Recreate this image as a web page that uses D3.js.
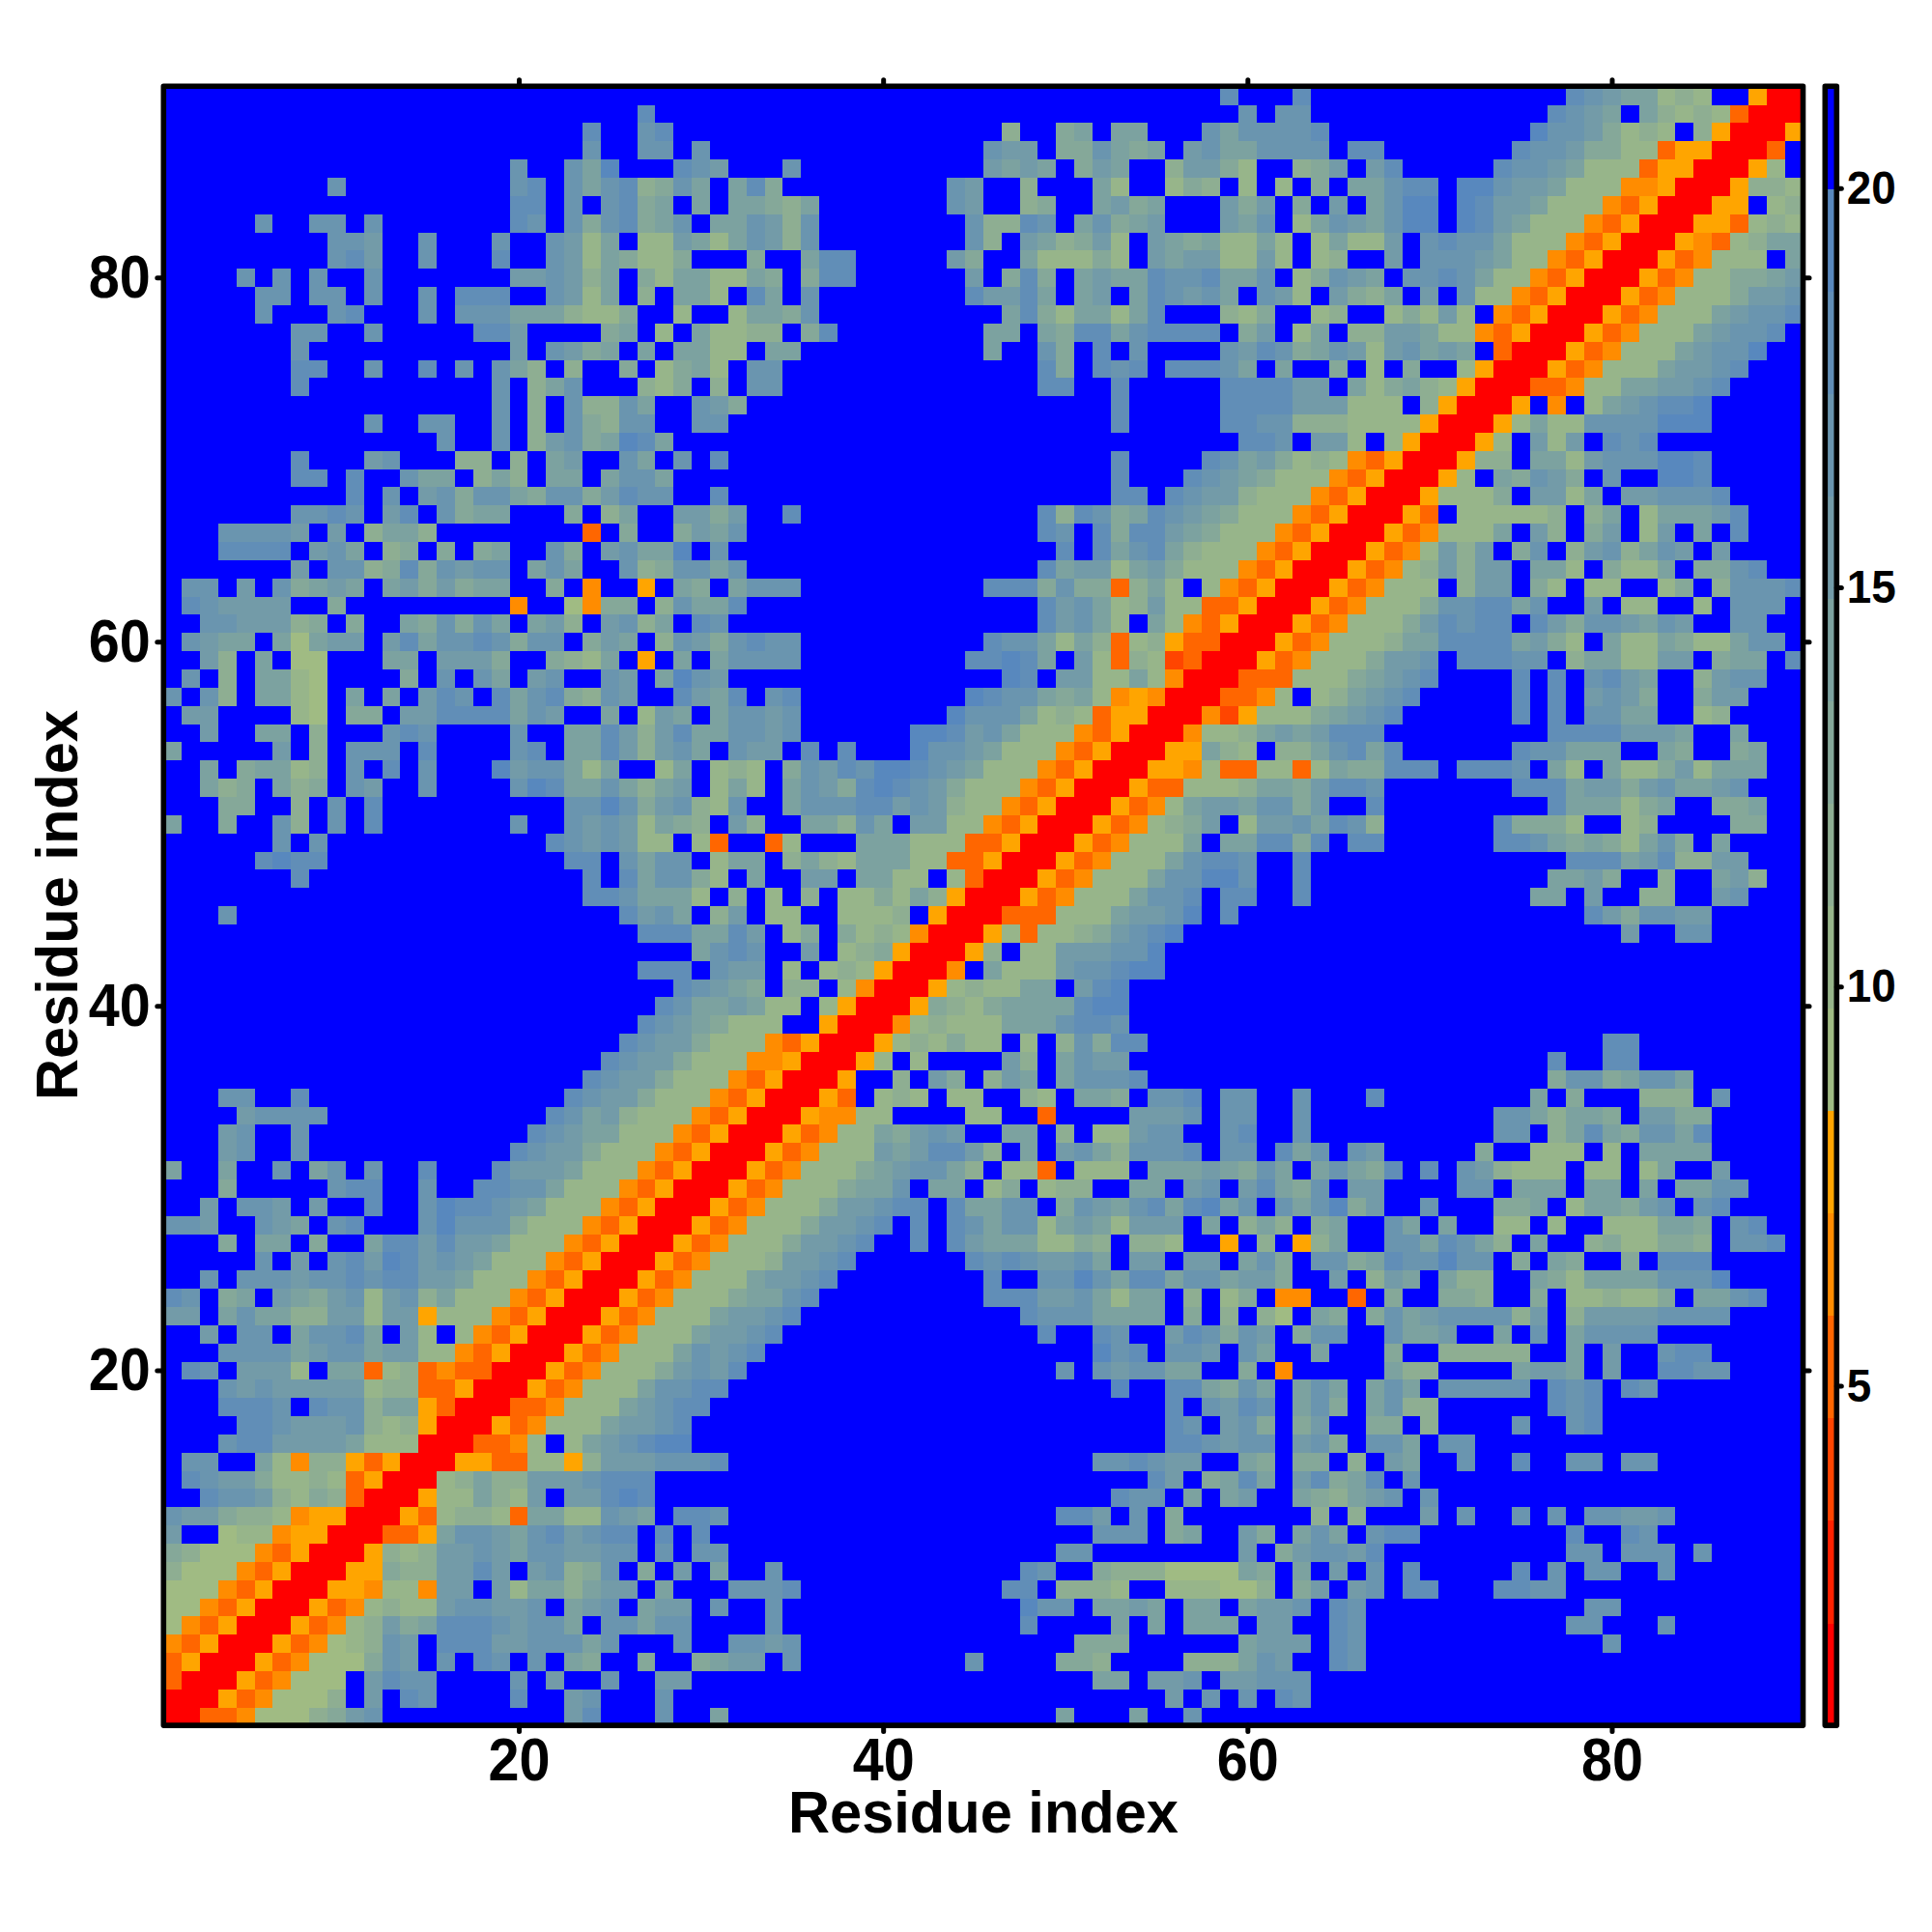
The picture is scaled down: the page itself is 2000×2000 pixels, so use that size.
<!DOCTYPE html>
<html><head><meta charset="utf-8"><style>html,body{margin:0;background:#fff}svg{display:block}text{font-family:"Liberation Sans",Arial,sans-serif;font-weight:bold;fill:#000}</style>
<script src="https://cdnjs.cloudflare.com/ajax/libs/d3/7.8.5/d3.min.js"></script></head><body><div id="c"></div><script>
const residueCount = 90;
const axisTicks = [20, 40, 60, 80];
const colorbarTicks = [5, 10, 15, 20];
const colorbarRange = [0.756, 21.29];
const levelColors = ["#FF0000","#FF2200","#FF4500","#FF6600","#FF8C00","#FFA500","#A0BB83","#97B58A","#8EAE92","#85A899","#7CA2A0","#739BA8","#6A95AF","#618EB7","#5888BE","#0000FF"];
// Upper triangle of the symmetric map: row r holds columns r..90, one level (0-f) per cell; Fn = n cells of level f.
const triangleRows = [
"0033466689bc F10 bd fff c ff a F18 a fff a ff c fff F30",
"00534 666 8 f b f d c ffff d ff b c fff c ff F25 b f c f c f d c F27",
"00534 666 f b d c c ffff c f b ff c ff bb f F21 a a f b b c f b b ccc F27",
"00534 666 9 c b f c f d c f c f a 9 ff 9 ff 9 a bb f c F9 c F4 99 8 F4 888 a c b ff d c F24",
"00534 6 7 8 c b f ddd bb ccc a c fff c f f cc b c F15 999 F6 a bbb f d c F13 c F10",
"00534 7 8 b 9 a ddd c b c c a f c c a c c f fff c F13 d F4 a f a f aa a f bb ff d c F11 cc fff c F7",
"00534 7 8 7 7 b c c b b c f a b c f a b b f c ff c F13 e cc f aa b a f aa f a bbc f d c F12 cc F10",
"00554 77 4 bb f b 7 aa 8 a b b f a ff f ccc d F11 dd f 888 7 ff 777 66 8 f 9 b f b c f dd fff dd cc F13",
"00559 88 bb d b f b c 8 9 c f 9 f b f a ff c F13 d c ff 9888 6666 a 9 f a f b f c f d F5 d f c f cc ff c F7",
"005 8 7 8 b b c b a c c b b c c f c f c c F18 cc F8 b f 9 b c c b d F10 c c f c c c f c F5",
"00 33 5 a c c b a c d b c d d f d f d F21 ccc f 9 a ff b 9 f a c a f c d d F8 d ff d c F8",
"005 3 7 8 8 7 3 a a 7 7 c b a f d d c F18 dd b f c f 9 ffff fff 8 f 8 fff b f c ff c f c f c c b b c F7",
"005 77 a 8 7 b f bb d e d fff F22 d cc f a f a b ff a 9 8 a b c f c F20",
"00 7 8 a 8 8 bbb c ddd fff F24 d b f 9 a d a f b d 9 a d f c F21",
"00 55 33 77 5 8 bbb ccc d F20 c c d c bb ff a 9 f 9 9 f 8 f b a ff c ff d ff cc f cc F8",
"00 33 4 7 f 7 a b c d e e f F25 d d c b c c f b c 9 f c c a f c c F18",
"005 3 4 777 a b b c d f F25 d c f b c 9 f 9 b ff 9 9 f 8 ffff c ff c d F11",
"00 33 4 777 a b c d d F25 d f c b d c f a c 9 f a c 8 8 F6 d c d F11",
"005 3 4 777 a c c d d F21 e ff dd a 9 c a f a c a f a c a f ccccc f d c d f d c F8",
"005 3 4 777 9 b c b d F17 c f c b c c aa ff 9 f 4 F5 a 88 F4 a bb a f b ff dd cc F4",
"005 3 4 777 a c b c d F18 e c d f c c b f c a ff a fff 9 ff 88888 ff a f b ff c d d F5",
"005 3 4 777 a b b c d F14 d ff d c ff b d c 9 c b f 9 c c ff c a a b ff a f c f a cccc F8",
"00534 777 a bb c d F12 d ccc aa aa f 9 f 8 f 8 6 f a 9 f 9 c a b c c c c 8 b f 8 b b b b cccc ffff",
"00534 77 7 9 a a c d F9 ddd bb c a 7 aa f 8 f 7 9 f 44 ff 3 f 9 ff 9 9 8 ff 9 f 7 7 8 7 7 9 f a a c d ff",
"00534 7 7 7 a b b c d F8 d ff cc e c a dd a c c a b b 9 ff b f 8 b a f a 8 8 ff a 9 7 a a a a c c c e ffff",
"00 5 3 4 777 8 b b c d F6 d c d c bb c a f bb f bb f a c 9 f c c 9 a d c c e c c f 9 f a 9 ff 9 f d d d F5",
"00 5 3 4 777 9 bb c d ff d f d b aaa 77 9 8 f 88 7 ff 5 f 8 f 5 8 a ff c c a d c a 8 f a ff 8 9 7 7 9 9 8 f c c d f",
"005 3 4 777 9 bb c d f d f d c a cc 7 a b a 7 bbb f a f 8 a 8 f 9 a ff c a f a ff 77 f 7 ff 777 a a 9 f c d ff",
"00 5 3 4 777 9 bb c dd f d aa cc f 9 c b a c d a d e a c f c a c e 9 b ff c fff 99 a f 7 a a 9 b c f c d ffff",
"0 0 5 3 4 777 9 a a c f aa f 7 9 f 7 88 ff aa f b c f b d a 9 c f b b ffff cc f aaa f aa f a f aa cc fff",
"00534 777 9 a b c c a 8 f 7 7 3 f 777 f a a a b a 9 c a f a c a 9 d f d f c b 8 777 f 77 f 7 a ff b ffff",
"005 3 4 777 b a b d d b 8 f a f b c a 8 c c c d f c c f d a c f c b F5 9 ff 777 f 7 f aaaa F5",
"005 3 4 77 a 9 b c b ff aa f 8 f 77 b cc ff c d ff c F10 cc f 8 a d a 9 c c a d F5",
"005 44 77 ffff 77 ff 3 ffff bbb c f cc ff c F10 cc a 8 a a 9 f b b 9 9 F5",
"005 3 f 7 8 7 f 77 ff 8 7 f aa 9 f cc d f cc ff c fff d F8 a f 9 fff 888 f c ffff",
"005 ff 8 f b 9 f 8 b a f a ccc d F6 F16 9 cc 9 a cc a F6",
"005 7 f 7 ffff b 8 f a c bb F7 F16 d ff dd F9",
"005 7 8 7 9 77 f 7 f 8 c 9 dd F6 F19 dd F9",
"004 7 8 777 aaa c dd c F7 F30",
"005 9 8 7 9 aaaa d ee F7 F30",
"005 7 8 77 aa f b d e F7 F30",
"004 f a 777 b cc d ee F5 F30",
"005 8 f 77 bbb c c e F5 F30",
"005 7 3 7 7 8 9 b c d e F4 F20 b ff cc F5",
"00 333 777 a b b c e f d f F18 d b 9 cc bb F5",
"005 3 4 777 a c c d f d d ff d F12 aa f b ff 88 ff b c fff",
"00534 777 a c c e e c ff d F13 a a b 9 ff 8 ff a b 8 ff",
"00534 777 a c d d c ff d F14 ddd a b d 88 bb fff",
"00534 777 a f a a dd 9 d f dd F6 dd c a 9 a 9 7 a c 9 f a ffff",
"00534 7 8 9 b f 7 bb c a d c 8 F6 d 99 9 7 ff 7 8 ffff 99 ff",
"00534 7 a b b a cc 9 b ff d F9 d aaa 7 9 a ff 99 a ff",
"005 33 777 8 aa 9 b dd c F7 dd d a bb 9 b c a a b c fff",
"00 55 4 7 33 77 3 7 a 99 ddd f ddd c f a 7 f a 77 9 b 7 a aa ff",
"00 55 a 8 7 f 8 8 a c d a d F6 d c c a aa ff a 9 ff 9 a ff",
"004 7 7 8 a b a b ddd F9 dddd bb b a ff a fff",
"004 2 5 77 7 9 a b c d F6 d f d f cc aa ff 7 8 ffff",
"0033 4 7 f 7 8 a b c d F5 d f d f b c b 9 ff 9 b b fff",
"003 33 777 9 a b c d ffff d f d f c d b a ff 8 b cc ff",
"00 5 3 4 777 9 b b c f ddd cc f 8 aa 77 bb f 9 a a f d",
"0 0 5 3 4 777 8 aa dddd a b 9 7 f a 77 a 9 77 a cc f",
"00534 777 9 b d c d d f d b 9 c c b a c b ff cc ff",
"00534 777 9 c c d d a c ff b f 77 ff 7 f ccc f",
"00534 777 f 8 bb f 9 7 f 77 ff 7 9 f 8 ccc d",
"00534 7 8 b 8 bb f aa 7 f 9 77 a f 99 c d ff",
"00534 7 b 8 b f 9 c f 8 b c 8 a c b f b ffff",
"00534 777 a f b 8 f 9 b f 7 b f a f d fff",
"00 5 3 f 77777 8 f 8 a f 7 aaa b d fff",
"005 777 9 f bb 7 a f bb ccc d ffff",
"005 7 f a 9 c b 9 f c ff ee d F5",
"005 88 f aa 7 b ccc ee d F5",
"005 7 f b 7 b f d c d F8",
"005 7 a 77 cccc eee F5",
"005 f 4 f 7 a b c dd e F5",
"00 33 4 7 7 a a b b c d ffff",
"005 3 4 777 a bb c d fff",
"005 3 4 777 a b cc e ff",
"005 3 4 777 a b c c d f",
"005 3 4 777 a b c c d",
"005 3 4 777 9 b b c",
"005 3 4 7 7 9 9 a b",
"005 3 4 777 f a",
"005 4 3 7 8 a a",
"00 55 3 7 8 7",
"00 55 f 7 8",
"005 8 8 7",
"005 7 f",
"00 3 f",
"005",
"00",
"0"
];

const levelIndex = triangleRows.map((s, r) => {
  const t = s.replace(/F(\d+)/g, (_, n) => "f".repeat(+n)).replace(/\s/g, "");
  if (t.length !== residueCount - r) throw new Error("row " + (r + 1) + " has " + t.length + " want " + (residueCount - r));
  return Array.from(t, c => parseInt(c, 16));
});

const W = 2000, H = 2000;
const plot = {l: 169.3, r: 1866.5, t: 89.2, b: 1786.1};
const bar = {l: 1889.3, r: 1901.3};
const svg = d3.select("#c").append("svg").attr("width", W).attr("height", H);

const x = d3.scaleLinear().domain([0.5, residueCount + 0.5]).range([plot.l, plot.r]);
const y = d3.scaleLinear().domain([0.5, residueCount + 0.5]).range([plot.b, plot.t]);
const cb = d3.scaleLinear().domain(colorbarRange).range([plot.b, plot.t]);
const step = (colorbarRange[1] - colorbarRange[0]) / levelColors.length;
const breaks = d3.range(1, levelColors.length).map(i => colorbarRange[0] + i * step);
const color = d3.scaleThreshold().domain(breaks).range(levelColors);
const valueOf = k => colorbarRange[0] + (k + 0.5) * step;

const cells = [];
levelIndex.forEach((row, r) => row.forEach((k, i) => {
  const c = r + i;
  cells.push({x: c + 1, y: r + 1, v: valueOf(k)});
  if (c !== r) cells.push({x: r + 1, y: c + 1, v: valueOf(k)});
}));
svg.append("g").attr("shape-rendering", "crispEdges").selectAll("rect").data(cells).join("rect")
  .attr("x", d => x(d.x - 0.5)).attr("y", d => y(d.y + 0.5))
  .attr("width", d => x(d.x + 0.5) - x(d.x - 0.5) + 0.5)
  .attr("height", d => y(d.y - 0.5) - y(d.y + 0.5) + 0.5)
  .attr("fill", d => color(d.v));

function styleAxis(g, fs, perDigit) {
  g.select(".domain").remove();
  g.selectAll(".tick line").attr("stroke", "#000").attr("stroke-width", 5).attr("stroke-linecap", "round");
  g.selectAll(".tick text").style("font-size", fs + "px")
    .style("font-family", '"Liberation Sans",Arial,sans-serif').style("font-weight", "bold")
    .each(function () {
      const n = this.textContent.length;
      if (n) d3.select(this).attr("textLength", n * perDigit).attr("lengthAdjust", "spacingAndGlyphs");
    });
}
svg.append("g").attr("transform", `translate(0,${plot.b})`).call(d3.axisBottom(x).tickValues(axisTicks).tickSize(6.5).tickPadding(5.6))
  .call(g => styleAxis(g, 63, 32));
svg.append("g").attr("transform", `translate(${plot.l},0)`).call(d3.axisLeft(y).tickValues(axisTicks).tickSize(6.5).tickPadding(7))
  .call(g => styleAxis(g, 63, 32));
svg.append("g").attr("transform", `translate(0,${plot.t})`).call(d3.axisTop(x).tickValues(axisTicks).tickSize(6.5).tickFormat(""))
  .call(g => styleAxis(g, 63, 32));
svg.append("g").attr("transform", `translate(${plot.r},0)`).call(d3.axisRight(y).tickValues(axisTicks).tickSize(6.5).tickFormat(""))
  .call(g => styleAxis(g, 63, 32));
svg.append("rect").attr("x", plot.l).attr("y", plot.t).attr("width", plot.r - plot.l).attr("height", plot.b - plot.t)
  .attr("fill", "none").attr("stroke", "#000").attr("stroke-width", 5.6).attr("stroke-linejoin", "round");

svg.append("g").attr("shape-rendering", "crispEdges").selectAll("rect").data(levelColors).join("rect")
  .attr("x", bar.l).attr("width", bar.r - bar.l)
  .attr("y", (d, i) => cb(colorbarRange[0] + (i + 1) * step))
  .attr("height", step * (plot.b - plot.t) / (colorbarRange[1] - colorbarRange[0]) + 0.5)
  .attr("fill", d => d);
svg.append("rect").attr("x", bar.l).attr("y", plot.t).attr("width", bar.r - bar.l).attr("height", plot.b - plot.t)
  .attr("fill", "none").attr("stroke", "#000").attr("stroke-width", 5.6).attr("stroke-linejoin", "round");
svg.append("g").attr("transform", `translate(${bar.r},-1)`).call(d3.axisRight(cb).tickValues(colorbarTicks).tickSize(5).tickPadding(5.4))
  .call(g => styleAxis(g, 49, 25.5));

svg.append("text").attr("x", 1018).attr("y", 1897).attr("text-anchor", "middle").attr("textLength", 404).attr("lengthAdjust", "spacingAndGlyphs").style("font-size", "62px").text("Residue index");
svg.append("text").attr("transform", "translate(80,937) rotate(-90)").attr("text-anchor", "middle").attr("textLength", 404).attr("lengthAdjust", "spacingAndGlyphs").style("font-size", "62px").text("Residue index");
</script></body></html>
